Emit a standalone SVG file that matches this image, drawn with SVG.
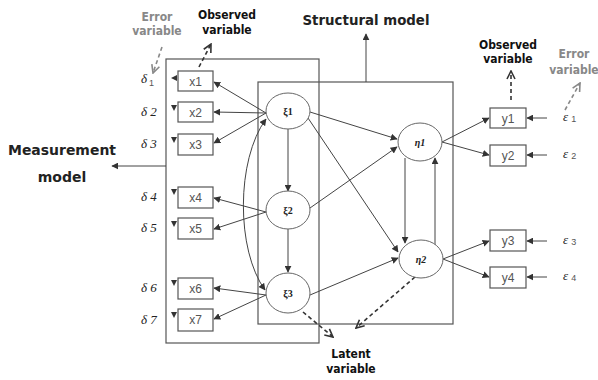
<svg xmlns="http://www.w3.org/2000/svg" width="598" height="380" viewBox="0 0 598 380">
  <defs>
    <marker id="ah" viewBox="0 0 10 10" refX="9" refY="5" markerWidth="7" markerHeight="7" orient="auto-start-reverse" markerUnits="userSpaceOnUse">
      <path d="M0,0 L10,5 L0,10 z" fill="#333"/>
    </marker>
    <marker id="ahd" viewBox="0 0 10 10" refX="9" refY="5" markerWidth="10" markerHeight="10" orient="auto" markerUnits="userSpaceOnUse">
      <path d="M1,1 L9,5 L1,9" fill="none" stroke="#333" stroke-width="1.6"/>
    </marker>
    <marker id="ahg" viewBox="0 0 10 10" refX="9" refY="5" markerWidth="10" markerHeight="10" orient="auto" markerUnits="userSpaceOnUse">
      <path d="M1,1 L9,5 L1,9" fill="none" stroke="#888" stroke-width="1.6"/>
    </marker>
  </defs>
  <style>
    .frame { fill: none; stroke: #555; stroke-width: 1.2; }
    .box { fill: #fff; stroke: #555; stroke-width: 1.2; }
    .lat { fill: #fff; stroke: #666; stroke-width: 1; }
    .obs { font-family: "Liberation Sans", Arial, sans-serif; font-size: 12px; fill: #555; text-anchor: middle; }
    .latt { font-family: "Liberation Serif", serif; font-size: 10px; font-weight: bold; fill: #222; text-anchor: middle; }
    .err { font-family: "Liberation Serif", serif; font-style: italic; font-size: 13px; fill: #222; }
    .sub { font-family: "Liberation Sans", sans-serif; font-size: 9px; fill: #555; font-style: normal; }
    .title { font-family: "DejaVu Sans", "Liberation Sans", sans-serif; font-weight: bold; font-size: 14px; fill: #222; }
    .tag { font-family: "Liberation Sans Narrow", "DejaVu Sans Condensed", "Liberation Sans", sans-serif; font-weight: bold; font-size: 12px; fill: #111; text-anchor: middle; }
    .tagg { fill: #888; }
    .edge { stroke: #444; stroke-width: 1; fill: none; marker-end: url(#ah); }
    .tick { fill: #333; }
    .dash { stroke: #333; stroke-width: 1.6; stroke-dasharray: 4 3; fill: none; marker-end: url(#ahd); }
    .dashg { stroke: #888; stroke-width: 1.6; stroke-dasharray: 4 3; fill: none; marker-end: url(#ahg); }
  </style>

  <!-- model frames -->
  <g id="measurement-frame">
    <rect class="frame" x="166" y="59" width="153" height="284"/>
    <line x1="166" y1="166" x2="112" y2="166" stroke="#444" stroke-width="1" marker-end="url(#ah)"/>
    <text class="title" x="62" y="155" text-anchor="middle" textLength="108" lengthAdjust="spacingAndGlyphs">Measurement</text>
    <text class="title" x="62" y="182" text-anchor="middle">model</text>
  </g>
  <g id="structural-frame">
    <rect class="frame" x="258" y="82" width="195" height="242"/>
    <line x1="366" y1="82" x2="366" y2="34" stroke="#444" stroke-width="1" marker-end="url(#ah)"/>
    <text class="title" x="366" y="25" text-anchor="middle" textLength="127" lengthAdjust="spacingAndGlyphs">Structural model</text>
  </g>

  <!-- connectors -->
  <g id="connectors">
    <!-- loadings of xi onto x -->
    <line class="edge" x1="266" y1="113" x2="214" y2="82"/>
    <line class="edge" x1="266" y1="113" x2="214" y2="112"/>
    <line class="edge" x1="266" y1="113" x2="214" y2="143"/>
    <line class="edge" x1="266" y1="212" x2="214" y2="198"/>
    <line class="edge" x1="266" y1="212" x2="214" y2="229"/>
    <line class="edge" x1="266" y1="295" x2="214" y2="288"/>
    <line class="edge" x1="266" y1="295" x2="214" y2="319"/>
    <!-- xi chain -->
    <line class="edge" x1="288" y1="129" x2="288" y2="191"/>
    <line class="edge" x1="288" y1="229" x2="288" y2="272"/>
    <!-- covariance xi1 - xi3 -->
    <path class="edge" d="M266,119 C236,160 236,250 265,290" marker-start="url(#ah)"/>
    <!-- structural paths -->
    <line class="edge" x1="310" y1="112" x2="397" y2="139"/>
    <line class="edge" x1="308" y1="118" x2="398" y2="252"/>
    <line class="edge" x1="310" y1="208" x2="397" y2="147"/>
    <line class="edge" x1="310" y1="295" x2="398" y2="258"/>
    <line class="edge" x1="405" y1="158" x2="405" y2="243"/>
    <line class="edge" x1="435" y1="246" x2="435" y2="158"/>
    <!-- eta onto y -->
    <line class="edge" x1="442" y1="142" x2="489" y2="118"/>
    <line class="edge" x1="442" y1="142" x2="489" y2="155"/>
    <line class="edge" x1="443" y1="259" x2="489" y2="241"/>
    <line class="edge" x1="443" y1="259" x2="489" y2="277"/>
    <!-- epsilon to y -->
    <line class="edge" x1="547" y1="118" x2="527" y2="118"/>
    <line class="edge" x1="547" y1="155" x2="527" y2="155"/>
    <line class="edge" x1="547" y1="241" x2="527" y2="241"/>
    <line class="edge" x1="547" y1="277" x2="527" y2="277"/>
    <!-- delta ticks into x -->
    <path class="tick" d="M171,78 L177,75 L177,81 z"/>
    <path class="tick" d="M171,105 L177,105 L174,111 z"/>
    <path class="tick" d="M171,137 L177,137 L174,143 z"/>
    <path class="tick" d="M171,189 L177,189 L174,195 z"/>
    <path class="tick" d="M171,221 L177,221 L174,227 z"/>
    <path class="tick" d="M171,280 L177,280 L174,286 z"/>
    <path class="tick" d="M171,312 L177,312 L174,318 z"/>
    <!-- annotation pointers -->
    <line class="dashg" x1="162" y1="47" x2="153" y2="73"/>
    <line class="dash" x1="199" y1="67" x2="211" y2="44"/>
    <line class="dash" x1="511" y1="100" x2="511" y2="71"/>
    <line class="dashg" x1="565" y1="110" x2="580" y2="83"/>
    <line class="dash" x1="303" y1="312" x2="333" y2="337"/>
    <line class="dash" x1="415" y1="277" x2="356" y2="328"/>
  </g>

  <!-- observed x variables -->
  <g id="x1"><rect class="box" x="178" y="71" width="35" height="20"/><text class="obs" x="195.5" y="86">x1</text></g>
  <g id="x2"><rect class="box" x="178" y="102" width="35" height="20"/><text class="obs" x="195.5" y="117">x2</text></g>
  <g id="x3"><rect class="box" x="178" y="134" width="35" height="21"/><text class="obs" x="195.5" y="149">x3</text></g>
  <g id="x4"><rect class="box" x="178" y="187" width="35" height="21"/><text class="obs" x="195.5" y="202">x4</text></g>
  <g id="x5"><rect class="box" x="178" y="218" width="35" height="21"/><text class="obs" x="195.5" y="233">x5</text></g>
  <g id="x6"><rect class="box" x="178" y="278" width="35" height="21"/><text class="obs" x="195.5" y="293">x6</text></g>
  <g id="x7"><rect class="box" x="178" y="309" width="35" height="22"/><text class="obs" x="195.5" y="324">x7</text></g>

  <!-- error terms of x -->
  <g id="delta1"><text class="err" x="141" y="83">δ<tspan class="sub" dx="2" dy="3">1</tspan></text></g>
  <g id="delta2"><text class="err" x="141" y="116">δ 2</text></g>
  <g id="delta3"><text class="err" x="141" y="148">δ 3</text></g>
  <g id="delta4"><text class="err" x="141" y="201">δ 4</text></g>
  <g id="delta5"><text class="err" x="141" y="232">δ 5</text></g>
  <g id="delta6"><text class="err" x="141" y="292">δ 6</text></g>
  <g id="delta7"><text class="err" x="141" y="324">δ 7</text></g>

  <!-- latent variables -->
  <g id="xi1"><ellipse class="lat" cx="288" cy="111" rx="22" ry="18"/><text class="latt" x="288" y="115">ξ1</text></g>
  <g id="xi2"><ellipse class="lat" cx="288" cy="210" rx="22" ry="19"/><text class="latt" x="288" y="214">ξ2</text></g>
  <g id="xi3"><ellipse class="lat" cx="288" cy="293" rx="22" ry="20"/><text class="latt" x="288" y="297">ξ3</text></g>
  <g id="eta1"><ellipse class="lat" cx="420" cy="142" rx="22" ry="19"/><text class="latt" x="420" y="146" font-style="italic">η1</text></g>
  <g id="eta2"><ellipse class="lat" cx="421" cy="259" rx="22" ry="19"/><text class="latt" x="421" y="263" font-style="italic">η2</text></g>

  <!-- observed y variables -->
  <g id="y1"><rect class="box" x="490" y="108" width="36" height="20"/><text class="obs" x="508" y="123">y1</text></g>
  <g id="y2"><rect class="box" x="490" y="145" width="36" height="21"/><text class="obs" x="508" y="160">y2</text></g>
  <g id="y3"><rect class="box" x="490" y="230" width="36" height="21"/><text class="obs" x="508" y="245">y3</text></g>
  <g id="y4"><rect class="box" x="490" y="267" width="36" height="21"/><text class="obs" x="508" y="282">y4</text></g>

  <!-- error terms of y -->
  <g id="eps1"><text class="err" x="563" y="121" font-size="11">ε<tspan class="sub" dx="3" dy="1">1</tspan></text></g>
  <g id="eps2"><text class="err" x="563" y="158" font-size="11">ε<tspan class="sub" dx="3" dy="1">2</tspan></text></g>
  <g id="eps3"><text class="err" x="563" y="244" font-size="11">ε<tspan class="sub" dx="3" dy="1">3</tspan></text></g>
  <g id="eps4"><text class="err" x="563" y="280" font-size="11">ε<tspan class="sub" dx="3" dy="1">4</tspan></text></g>

  <!-- annotations -->
  <g id="label-error-left">
    <text class="tag tagg" x="157" y="21">Error</text>
    <text class="tag tagg" x="157" y="35">variable</text>
  </g>
  <g id="label-observed-left">
    <text class="tag" x="227" y="19">Observed</text>
    <text class="tag" x="227" y="34">variable</text>
  </g>
  <g id="label-observed-right">
    <text class="tag" x="508" y="49">Observed</text>
    <text class="tag" x="508" y="63">variable</text>
  </g>
  <g id="label-error-right">
    <text class="tag tagg" x="574" y="58">Error</text>
    <text class="tag tagg" x="574" y="74">variable</text>
  </g>
  <g id="label-latent">
    <text class="tag" x="351" y="358">Latent</text>
    <text class="tag" x="351" y="373">variable</text>
  </g>
</svg>
